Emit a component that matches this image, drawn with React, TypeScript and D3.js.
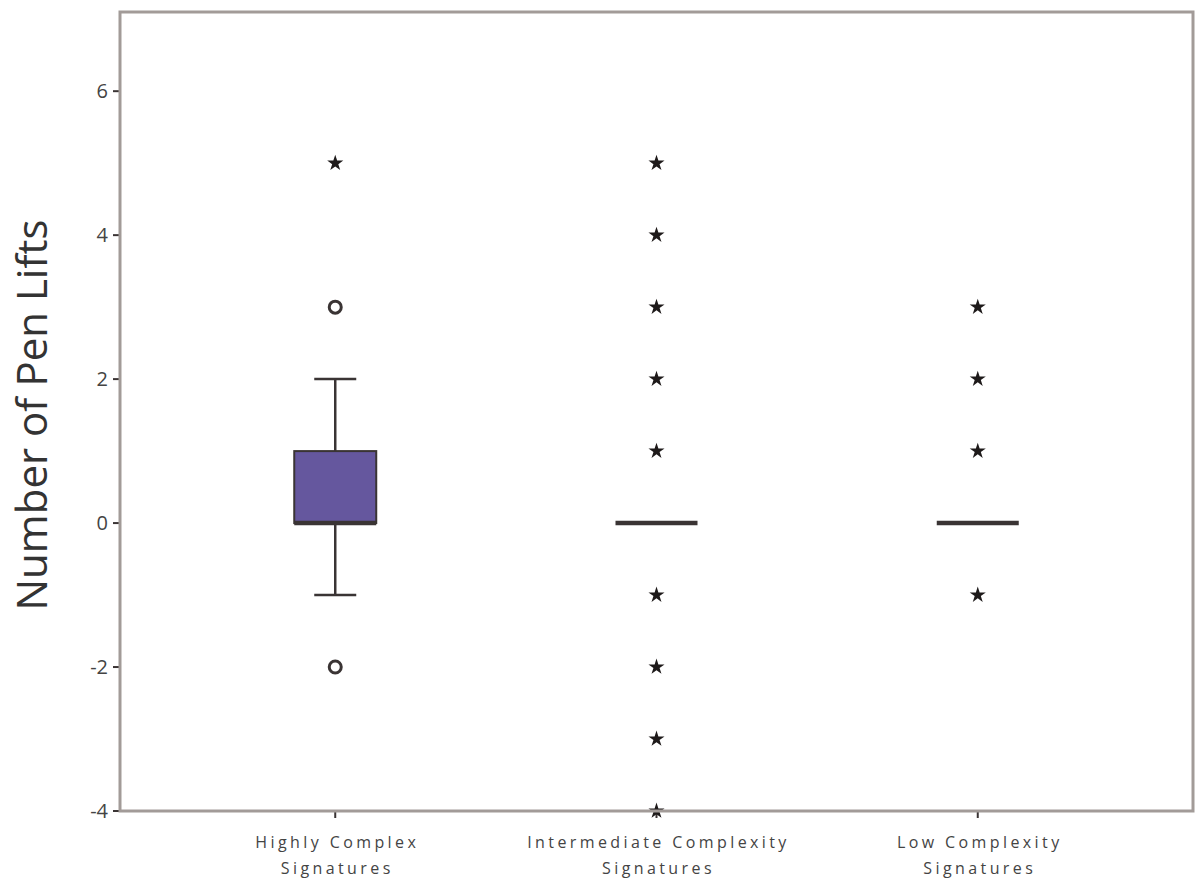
import React from "react";
import * as d3 from "d3";

// categories and the values
const categories = [
  ["Highly Complex", "Signatures"],
  ["Intermediate Complexity", "Signatures"],
  ["Low Complexity", "Signatures"],
];

// box stats per category: [whiskerLow, q1, median, q3, whiskerHigh]; null = box collapsed
const boxStats: ([number, number, number, number, number] | null)[] = [
  [-1, 0, 0, 1, 2],
  null,
  null,
];
const medians = [0, 0, 0];

// mild outliers (circles) and extremes (stars)
const circleOutliers: number[][] = [[3, -2], [], []];
const starOutliers: number[][] = [
  [5],
  [5, 4, 3, 2, 1, -1, -2, -3, -4],
  [3, 2, 1, -1],
];

const yTicks = [-4, -2, 0, 2, 4, 6];

const W = 1200;
const H = 888;
const M = { left: 120, right: 7, top: 12, bottom: 77 };

const FRAME = "#a29b98";
const INK = "#3a3434";
const FONT = "'Open Sans', 'Noto Sans', sans-serif";

export default function App() {
  const x = d3
    .scalePoint<number>()
    .domain(categories.map((_, i) => i))
    .range([M.left, W - M.right])
    .padding(0.67);

  const y = d3
    .scaleLinear()
    .domain([-4, 7.1])
    .range([H - M.bottom, M.top]);

  const boxW = 82;
  const capW = 42;
  const star = d3.symbol(d3.symbolStar, 80)() ?? "";

  return (
    <div style={{ position: "fixed", left: 0, top: 0 }}>
      <svg width={W} height={H} style={{ display: "block", background: "white" }}>
        {/* y ticks */}
        {yTicks.map((t) => (
          <g key={t} transform={`translate(0,${y(t)})`}>
            <line x1={M.left - 7} x2={M.left} stroke={INK} strokeWidth={2} />
            <text
              x={M.left - 12}
              dy="0.35em"
              textAnchor="end"
              fontFamily={FONT}
              fontSize={20}
              fill="#444"
            >
              {t}
            </text>
          </g>
        ))}

        {/* x ticks and labels */}
        {categories.map((lines, i) => (
          <g key={i} transform={`translate(${x(i)},${H - M.bottom})`}>
            <line y1={0} y2={7} stroke={INK} strokeWidth={2} />
            {lines.map((l, j) => (
              <text
                key={j}
                x={2}
                y={37 + j * 26}
                textAnchor="middle"
                fontFamily={FONT}
                fontSize={16}
                letterSpacing={3.4}
                fill="#444"
              >
                {l}
              </text>
            ))}
          </g>
        ))}

        {/* y axis title */}
        <text
          transform={`translate(47,415) rotate(-90)`}
          textAnchor="middle"
          fontFamily={FONT}
          fontSize={42}
          fill="#333"
        >
          Number of Pen Lifts
        </text>

        {/* boxes */}
        {categories.map((_, i) => {
          const cx = x(i) ?? 0;
          const s = boxStats[i];
          return (
            <g key={i}>
              {s && (
                <>
                  <line x1={cx} x2={cx} y1={y(s[0])} y2={y(s[1])} stroke={INK} strokeWidth={2.5} />
                  <line x1={cx} x2={cx} y1={y(s[3])} y2={y(s[4])} stroke={INK} strokeWidth={2.5} />
                  <line x1={cx - capW / 2} x2={cx + capW / 2} y1={y(s[0])} y2={y(s[0])} stroke={INK} strokeWidth={2.5} />
                  <line x1={cx - capW / 2} x2={cx + capW / 2} y1={y(s[4])} y2={y(s[4])} stroke={INK} strokeWidth={2.5} />
                  <rect
                    x={cx - boxW / 2}
                    y={y(s[3])}
                    width={boxW}
                    height={y(s[1]) - y(s[3])}
                    fill="#65579e"
                    stroke={INK}
                    strokeWidth={2}
                  />
                </>
              )}
              <line
                x1={cx - boxW / 2}
                x2={cx + boxW / 2}
                y1={y(medians[i])}
                y2={y(medians[i])}
                stroke={INK}
                strokeWidth={4.5}
              />
              {circleOutliers[i].map((v, k) => (
                <circle key={k} cx={cx} cy={y(v)} r={6} fill="white" stroke={INK} strokeWidth={3} />
              ))}
              {starOutliers[i].map((v, k) => (
                <path key={k} d={star} transform={`translate(${cx},${y(v)})`} fill="#1e1a1a" />
              ))}
            </g>
          );
        })}

        {/* frame */}
        <rect
          x={M.left}
          y={M.top}
          width={W - M.left - M.right}
          height={H - M.top - M.bottom}
          fill="none"
          stroke={FRAME}
          strokeWidth={3}
        />
      </svg>
    </div>
  );
}
